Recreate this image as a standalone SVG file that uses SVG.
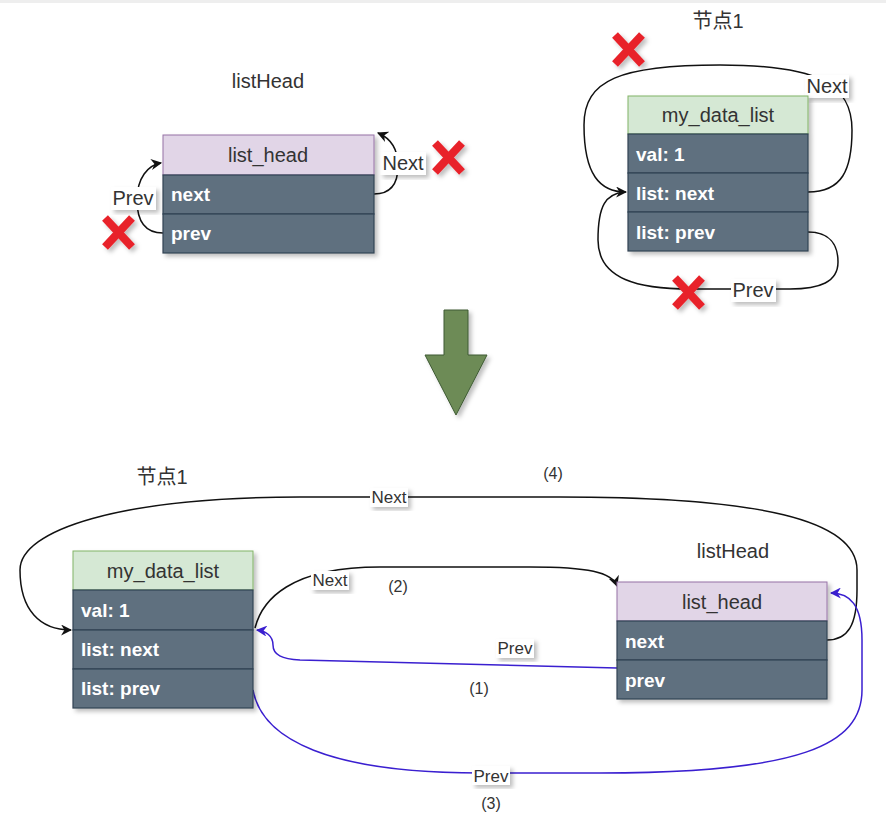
<svg xmlns="http://www.w3.org/2000/svg" width="886" height="819" viewBox="0 0 886 819">
<style>
  .hdrP{fill:#e1d5e7;stroke:#9673a6;stroke-width:1}
  .hdrG{fill:#d5e8d4;stroke:#82b366;stroke-width:1}
  .row{fill:#5f6f7f;stroke:#314354;stroke-width:1.2}
  .ht{font-family:"Liberation Sans",Arial,sans-serif;font-size:20px;fill:#333;text-anchor:middle}
  .rt{font-family:"Liberation Sans",Arial,sans-serif;font-size:19px;font-weight:bold;fill:#fff}
  .ttl{font-family:"Liberation Sans","Noto Sans CJK SC",sans-serif;font-size:20px;fill:#333;text-anchor:middle}
  .lbl{font-family:"Liberation Sans",Arial,sans-serif;font-size:20px;fill:#333;text-anchor:middle}
  .lbs{font-family:"Liberation Sans",Arial,sans-serif;font-size:17px;fill:#333;text-anchor:middle}
  .num{font-family:"Liberation Sans",Arial,sans-serif;font-size:16px;fill:#333;text-anchor:middle}
  .lbg{fill:#fff}
  .blk{fill:none;stroke:#111;stroke-width:1.5}
  .blu{fill:none;stroke:#3a1fd0;stroke-width:1.5}
  .x{stroke:#e8232c;stroke-width:8;stroke-linecap:butt}
</style>
<defs>
  <filter id="sh" x="-10%" y="-10%" width="130%" height="130%">
    <feDropShadow dx="3" dy="3" stdDeviation="2" flood-color="#000" flood-opacity="0.25"/>
  </filter>
  <marker id="ab" viewBox="0 0 10 10" refX="9" refY="5" markerWidth="11" markerHeight="11" markerUnits="userSpaceOnUse" orient="auto">
    <path d="M0,0 L10,5 L0,10 L3,5 Z" fill="#111"/>
  </marker>
  <marker id="au" viewBox="0 0 10 10" refX="9" refY="5" markerWidth="11" markerHeight="11" markerUnits="userSpaceOnUse" orient="auto">
    <path d="M0,0 L10,5 L0,10 L3,5 Z" fill="#3a1fd0"/>
  </marker>
</defs>
<rect x="0" y="0" width="886" height="819" fill="#fff"/>
<rect x="0" y="0" width="886" height="3" fill="#eee"/>

<!-- connectors -->
<g id="connectors">
  <!-- top-left -->
  <path class="blk" d="M374,194 C390,194 398,184 398,166 C398,148 390,138 378,133" marker-end="url(#ab)"/>
  <path class="blk" d="M163,233 C146,233 137,222 137,200 C137,178 148,165 161,163" marker-end="url(#ab)"/>
  <!-- top-right -->
  <path class="blk" d="M808,192 C842,192 852,170 852,130 C852,85 820,65 720,65 C620,65 584,80 584,125 C584,175 600,192 626,192" marker-end="url(#ab)"/>
  <path class="blk" d="M808,232 C830,232 838,245 838,262 C838,282 820,289 790,289 L690,289 C640,289 598,280 598,240 C598,205 606,194 624,192"/>
  <!-- bottom -->
  <path class="blk" d="M827,640 C848,640 857,625 857,590 L857,570 C857,520 760,497 560,497 L300,497 C120,497 20,530 20,570 C20,610 40,630 71,630" marker-end="url(#ab)"/>
  <path class="blk" d="M255,628 C262,600 290,567 380,567 L530,567 C588,567 612,572 617,586" marker-end="url(#ab)"/>
  <path class="blu" d="M617,668 L300,660 C282,659 273,655 273,645 C273,636 266,631 257,630" marker-end="url(#au)"/>
  <path class="blu" d="M253,690 C262,740 330,773 480,773 L600,773 C800,773 862,745 862,690 L862,640 C862,605 850,593 831,593" marker-end="url(#au)"/>

  <!-- labels on connectors -->
  <rect class="lbg" x="380" y="152" width="46" height="23" filter="url(#sh)"/>
  <text class="lbl" x="403" y="170">Next</text>
  <rect class="lbg" x="111" y="187" width="45" height="23" filter="url(#sh)"/>
  <text class="lbl" x="133" y="205">Prev</text>
  <rect class="lbg" x="805" y="75" width="44" height="23" filter="url(#sh)"/>
  <text class="lbl" x="827" y="93">Next</text>
  <rect class="lbg" x="731" y="279" width="45" height="23" filter="url(#sh)"/>
  <text class="lbl" x="753" y="297">Prev</text>
  <rect class="lbg" x="370" y="488" width="38" height="19" filter="url(#sh)"/>
  <text class="lbs" x="389" y="503">Next</text>
  <rect class="lbg" x="311" y="571" width="38" height="19" filter="url(#sh)"/>
  <text class="lbs" x="330" y="586">Next</text>
  <rect class="lbg" x="496" y="639" width="38" height="19" filter="url(#sh)"/>
  <text class="lbs" x="515" y="654">Prev</text>
  <rect class="lbg" x="472" y="766" width="38" height="19" filter="url(#sh)"/>
  <text class="lbs" x="491" y="782">Prev</text>
  <text class="num" x="553" y="479">(4)</text>
  <text class="num" x="398" y="592">(2)</text>
  <text class="num" x="479" y="694">(1)</text>
  <text class="num" x="491" y="809">(3)</text>
</g>

<!-- top-left listHead -->
<g id="top_listHead">
  <text class="ttl" x="268" y="88">listHead</text>
  <g filter="url(#sh)">
    <rect class="hdrP" x="163" y="135" width="211" height="40"/>
    <rect class="row" x="163" y="175" width="211" height="39"/>
    <rect class="row" x="163" y="214" width="211" height="39"/>
  </g>
  <text class="ht" x="268" y="162">list_head</text>
  <text class="rt" x="171" y="201">next</text>
  <text class="rt" x="171" y="240">prev</text>
</g>

<!-- top-right node1 -->
<g id="top_node1">
  <text class="ttl" x="718" y="28">节点1</text>
  <g filter="url(#sh)">
    <rect class="hdrG" x="628" y="96" width="180" height="38"/>
    <rect class="row" x="628" y="134" width="180" height="39"/>
    <rect class="row" x="628" y="173" width="180" height="39"/>
    <rect class="row" x="628" y="212" width="180" height="39"/>
  </g>
  <text class="ht" x="718" y="122">my_data_list</text>
  <text class="rt" x="636" y="161">val: 1</text>
  <text class="rt" x="636" y="200">list: next</text>
  <text class="rt" x="636" y="239">list: prev</text>
</g>

<!-- red X marks -->
<g id="redX" filter="url(#sh)">
  <path class="x" d="M435,143 L462,172 M462,143 L435,172"/>
  <path class="x" d="M105,218 L132,247 M132,218 L105,247"/>
  <path class="x" d="M615,35 L642,64 M642,35 L615,64"/>
  <path class="x" d="M675,278 L702,307 M702,278 L675,307"/>
</g>

<!-- big down arrow -->
<g id="bigArrow" filter="url(#sh)">
  <path d="M444,310 L468,310 L468,355 L487,355 L456,415 L425,355 L444,355 Z" fill="#6d8b57" stroke="#3d5a32" stroke-width="1"/>
</g>

<!-- bottom node1 -->
<g id="bottom_node1">
  <text class="ttl" x="162" y="484">节点1</text>
  <g filter="url(#sh)">
    <rect class="hdrG" x="73" y="551" width="180" height="39"/>
    <rect class="row" x="73" y="590" width="180" height="40"/>
    <rect class="row" x="73" y="630" width="180" height="39"/>
    <rect class="row" x="73" y="669" width="180" height="39"/>
  </g>
  <text class="ht" x="163" y="578">my_data_list</text>
  <text class="rt" x="81" y="617">val: 1</text>
  <text class="rt" x="81" y="656">list: next</text>
  <text class="rt" x="81" y="695">list: prev</text>
</g>

<!-- bottom listHead -->
<g id="bottom_listHead">
  <text class="ttl" x="733" y="558">listHead</text>
  <g filter="url(#sh)">
    <rect class="hdrP" x="617" y="582" width="210" height="39"/>
    <rect class="row" x="617" y="621" width="210" height="39"/>
    <rect class="row" x="617" y="660" width="210" height="39"/>
  </g>
  <text class="ht" x="722" y="609">list_head</text>
  <text class="rt" x="625" y="648">next</text>
  <text class="rt" x="625" y="687">prev</text>
</g>
</svg>
